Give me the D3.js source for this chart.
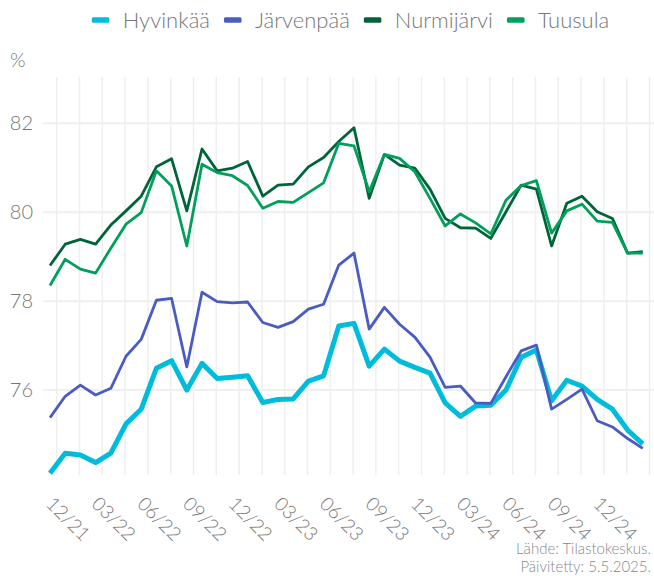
<!DOCTYPE html>
<html>
<head>
  <meta charset="utf-8">
  <title>Työllisyysaste</title>
  <script src="https://cdn.jsdelivr.net/npm/d3@7"></script>
  <style>
    body { margin: 0; background: #fff; }
    text { font-family: Lato, "Open Sans", sans-serif; font-weight: 300; fill: #777; }
  </style>
</head>
<body>
<script>
// kuukaudet 12/21 - 03/25
const months = ["12/21","01/22","02/22","03/22","04/22","05/22","06/22","07/22","08/22","09/22","10/22","11/22",
  "12/22","01/23","02/23","03/23","04/23","05/23","06/23","07/23","08/23","09/23","10/23","11/23",
  "12/23","01/24","02/24","03/24","04/24","05/24","06/24","07/24","08/24","09/24","10/24","11/24",
  "12/24","01/25","02/25","03/25"];
const tickLabels = ["12/21","03/22","06/22","09/22","12/22","03/23","06/23","09/23","12/23","03/24","06/24","09/24","12/24"];
const yTicks = [76, 78, 80, 82];

const hyvinkaa = [74.13,74.58,74.54,74.37,74.58,75.24,75.57,76.49,76.66,76.00,76.60,76.26,
  76.29,76.32,75.72,75.79,75.80,76.20,76.32,77.44,77.50,76.54,76.92,76.65,
  76.51,76.38,75.71,75.41,75.64,75.66,76.00,76.74,76.90,75.76,76.22,76.09,
  75.79,75.57,75.10,74.79];
const jarvenpaa = [75.38,75.86,76.11,75.89,76.04,76.76,77.14,78.02,78.06,76.52,78.20,77.99,
  77.96,77.98,77.52,77.41,77.54,77.82,77.93,78.81,79.08,77.37,77.86,77.48,
  77.19,76.74,76.06,76.09,75.71,75.70,76.30,76.88,77.01,75.57,75.79,76.02,
  75.31,75.17,74.91,74.69];
const nurmijarvi = [78.80,79.28,79.39,79.28,79.71,80.03,80.36,81.02,81.20,80.03,81.42,80.93,
  80.99,81.14,80.36,80.61,80.63,81.02,81.23,81.59,81.90,80.31,81.30,81.06,
  80.99,80.52,79.86,79.65,79.64,79.41,80.01,80.61,80.52,79.24,80.20,80.36,
  80.01,79.86,79.08,79.11];
const tuusula = [78.35,78.94,78.72,78.63,79.19,79.73,79.99,80.93,80.59,79.24,81.08,80.89,
  80.82,80.60,80.09,80.24,80.22,80.44,80.66,81.55,81.49,80.46,81.30,81.21,
  80.91,80.31,79.69,79.96,79.76,79.51,80.27,80.60,80.71,79.53,80.03,80.18,
  79.80,79.77,79.08,79.08];

const seriesNames = ["Hyvinkää","Järvenpää","Nurmijärvi","Tuusula"];
const seriesData = [hyvinkaa, jarvenpaa, nurmijarvi, tuusula];
const colors = ["#00bcdc","#4a5bc2","#00643a","#00a05c"];
const widths = [5, 2.8, 2.8, 2.8];

var width = 654, height = 576;
var svg = d3.select("body").append("svg").attr("width", width).attr("height", height);

// asteikot
var x = d3.scaleLinear().domain([0, months.length - 1]).range([50, 642.8]);
var y = d3.scaleLinear().domain([74.09, 83.04]).range([475, 77]);

// pystyruudukko (puolentoista kuukauden välein)
var vGrid = d3.range(0.44, months.length, 1.5);
svg.append("g").selectAll("line").data(vGrid).enter().append("line")
  .attr("x1", d => x(d)).attr("x2", d => x(d))
  .attr("y1", y.range()[1]).attr("y2", y.range()[0])
  .attr("stroke", "#efefef").attr("stroke-width", 1.5);

// vaakaruudukko
svg.append("g").selectAll("line").data(yTicks).enter().append("line")
  .attr("x1", 43).attr("x2", width)
  .attr("y1", d => y(d)).attr("y2", d => y(d))
  .attr("stroke", "#efefef").attr("stroke-width", 2);

// y-akselin tekstit
svg.append("g").selectAll("text").data(yTicks).enter().append("text")
  .attr("x", 33).attr("y", d => y(d)).attr("dy", "0.36em")
  .attr("text-anchor", "end").style("font-size", "20px")
  .text(d => d);

svg.append("text").attr("x", 10).attr("y", 67).style("font-size", "20px").text("%");

// x-akselin tekstit
svg.append("g").selectAll("text").data(tickLabels).enter().append("text")
  .attr("transform", d => "translate(" + (x(months.indexOf(d)) - 5) + ",505) rotate(45)")
  .style("font-size", "19px")
  .text(d => d);

// viivat
var line = d3.line().x((d, i) => x(i)).y(d => y(d));
seriesData.forEach(function(s, k) {
  svg.append("path").datum(s)
    .attr("d", line)
    .attr("fill", "none")
    .attr("stroke", colors[k])
    .attr("stroke-width", widths[k])
    .attr("stroke-linejoin", "round");
});

// selite
var legend = svg.append("g");
var lx = 0;
seriesNames.forEach(function(n, k) {
  var g = legend.append("g").attr("transform", "translate(" + lx + ",0)");
  g.append("rect").attr("x", 0).attr("y", 17.3).attr("width", 17.6).attr("height", 5.4)
    .attr("rx", 1.5).attr("fill", colors[k]);
  var t = g.append("text").attr("x", 31).attr("y", 27.5).style("font-size", "22px").text(n);
  lx += 31 + t.node().getComputedTextLength() + 14;
});
lx -= 14;
legend.attr("transform", "translate(" + (350.5 - lx / 2) + ",0)");

// lähde
svg.append("text").attr("x", 651).attr("y", 553.5).attr("text-anchor", "end")
  .style("font-size", "15px").style("fill", "#888").text("Lähde: Tilastokeskus.");
svg.append("text").attr("x", 651).attr("y", 571.5).attr("text-anchor", "end")
  .style("font-size", "15px").style("fill", "#888").text("Päivitetty: 5.5.2025.");
</script>
</body>
</html>
